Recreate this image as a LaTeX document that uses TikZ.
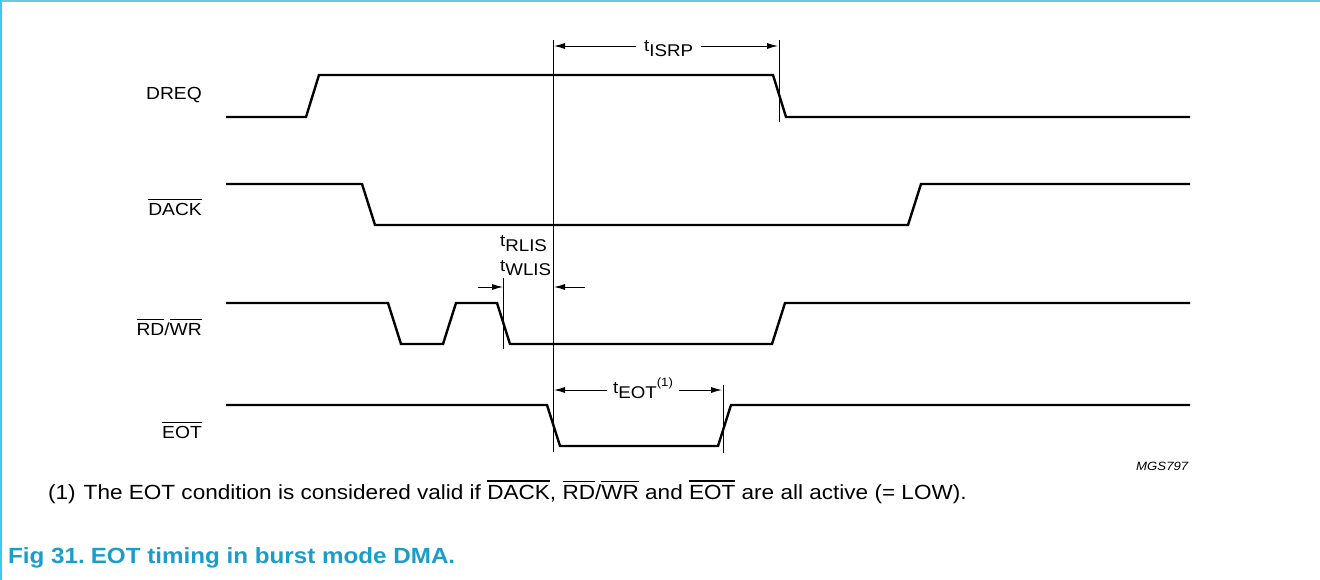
\documentclass[tikz,border=0pt]{standalone}
\usepackage{fontspec}
\setmainfont{Liberation Sans}[FakeStretch=1.1]
\usetikzlibrary{arrows.meta}

\definecolor{capblue}{RGB}{27,157,201}
\definecolor{framecyan}{RGB}{64,200,232}
\definecolor{frameblue}{RGB}{116,196,220}

% overlined (active low) signal name
\newcommand{\ovl}[1]{\setbox0\hbox{#1}\rlap{\rule[\dimexpr\ht0+3pt\relax]{\wd0}{1.2pt}}\box0\relax}
% timing symbol: t with lowered index
\newcommand{\tsym}[1]{t\raisebox{-5pt}{#1}}

\begin{document}
\begin{tikzpicture}[x=1pt,y=-1pt,
		signal/.style={line width=2.4pt,line join=miter},
		marker/.style={line width=0.9pt},
		dimarrow/.style={line width=0.9pt,-{Latex[length=11pt,width=6pt]}},
		sig/.style={anchor=east,inner sep=0pt,font=\fontsize{17.5}{21}\selectfont},
		timing/.style={anchor=base west,inner sep=0pt,font=\fontsize{17}{20}\selectfont}]

		\useasboundingbox (0,0) rectangle (1320,580);

		% Frame
		\draw[frameblue,line width=2pt] (0,1) -- (1320,1);
		\draw[framecyan,line width=2pt] (1,0) -- (1,580);

		% Signal names
		\node[sig] (dreq) at (202,95) {DREQ};
		\node[sig] (dack) at (202,207) {\ovl{DACK}};
		\node[sig] (rdwr) at (202,327) {\ovl{RD}/\ovl{WR}};
		\node[sig] (eot) at (202,430) {\ovl{EOT}};

		% Waveforms
		\draw[signal] (226,117) -- (306,117) -- (319,75) -- (773,75) -- (786,117) -- (1190,117);
		\draw[signal] (226,184) -- (362,184) -- (375,225) -- (908,225) -- (921,184) -- (1190,184);
		\draw[signal] (226,303) -- (388,303) -- (401,344) -- (443,344) -- (456,303)
			-- (497,303) -- (510,344) -- (772,344) -- (785,303) -- (1190,303);
		\draw[signal] (226,405) -- (547,405) -- (560,446) -- (718,446) -- (731,405) -- (1190,405);

		% Reference lines
		\draw[marker] (553,40) -- (553,452);
		\draw[marker] (779,40) -- (779,122);
		\draw[marker] (503,278) -- (503,349);
		\draw[marker] (723,385) -- (723,453);

		% tISRP
		\coordinate (isrpL) at (554,46);
		\coordinate (isrpR) at (778,46);
		\node[timing] (isrp) at (644,52) {\tsym{ISRP}};
		\draw[dimarrow] ([xshift=-8pt]isrp.west |- isrpL) -- (isrpL);
		\draw[dimarrow] ([xshift=8pt]isrp.east |- isrpR) -- (isrpR);

		% tRLIS / tWLIS
		\node[timing] (rlis) at (500,247) {\tsym{RLIS}};
		\node[timing] (wlis) at (500,271) {\tsym{WLIS}};
		\coordinate (lisL) at (503,287);
		\coordinate (lisR) at (554,287);
		\draw[dimarrow] (478,287) -- (lisL);
		\draw[dimarrow] (585,287) -- (lisR);

		% tEOT
		\coordinate (eotL) at (554,390);
		\coordinate (eotR) at (722,390);
		\node[timing] (teot) at (613,393) {\tsym{EOT}\raisebox{7pt}{\fontsize{12}{14}\selectfont(1)}};
		\draw[dimarrow] ([xshift=-6pt]teot.west |- eotL) -- (eotL);
		\draw[dimarrow] ([xshift=6pt]teot.east |- eotR) -- (eotR);

		% Figure code
		\node[anchor=base west,inner sep=0pt,font=\fontsize{12}{14}\selectfont\itshape] (code) at (1136,470) {MGS797};

		% Footnote and caption
		\node[anchor=base west,inner sep=0pt,font=\fontsize{20.5}{24}\selectfont] (note) at (48,499)
			{(1)\hspace{8pt}The EOT condition is considered valid if \ovl{DACK}, \ovl{RD}/\ovl{WR} and \ovl{EOT} are all active (= LOW).};
		\node[anchor=base west,inner sep=0pt,font=\fontsize{22}{26}\selectfont\bfseries,text=capblue] (caption) at (8,563)
			{Fig 31.\hspace{6pt}EOT timing in burst mode DMA.};

	\end{tikzpicture}
\end{document}
